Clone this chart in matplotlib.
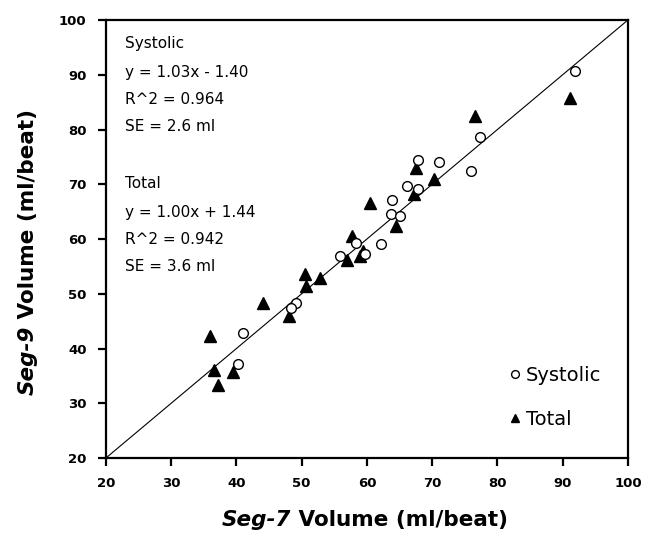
import matplotlib
matplotlib.use("Agg")
from matplotlib import pyplot as plt

# Systolic (circles)
sys_x = [91.9, 77.3, 71.1, 75.9, 67.9, 66.2, 67.9, 63.9, 63.7, 65.1, 62.1, 58.4, 55.8, 59.7, 49.2, 48.3, 41.0, 40.2]
sys_y = [90.6, 78.6, 74.0, 72.4, 74.4, 69.7, 69.1, 67.2, 64.5, 64.2, 59.0, 59.3, 56.9, 57.3, 48.3, 47.4, 42.9, 37.1]

# Total (triangles)
tot_x = [91.1, 76.6, 67.5, 70.3, 67.2, 60.5, 64.5, 57.7, 57.0, 58.9, 59.4, 50.5, 50.7, 52.8, 44.0, 48.1, 36.0, 36.6, 39.5, 37.2]
tot_y = [85.7, 82.4, 72.9, 70.9, 68.3, 66.5, 62.3, 60.6, 56.2, 56.9, 57.8, 53.6, 51.5, 52.9, 48.4, 46.0, 42.3, 36.1, 35.7, 33.3]

ticks = [20, 30, 40, 50, 60, 70, 80, 90, 100]
anotaciones = ["Systolic", "y = 1.03x - 1.40", "R^2 = 0.964", "SE = 2.6 ml",
               "Total", "y = 1.00x + 1.44", "R^2 = 0.942", "SE = 3.6 ml"]
anot_y = [95.8, 90.5, 85.4, 80.5, 70.2, 64.9, 60.0, 54.9]

fig = plt.figure(figsize=(6.46, 5.47), dpi=100)
ax = fig.add_axes([0.164, 0.1627, 0.808, 0.8007])

ax.plot([20, 100], [20, 100], color="black", lw=0.8, zorder=1)
ax.plot(sys_x, sys_y, "o", mfc="white", mec="black", mew=1.0, ms=7, label="Systolic", zorder=3)
ax.plot(tot_x, tot_y, "^", color="black", ms=8, label="Total", zorder=2)

ax.set_xlim(20, 100)
ax.set_ylim(20, 100)
ax.set_xticks(ticks)
ax.set_yticks(ticks)
for s in ax.spines.values():
    s.set_linewidth(1.6)
ax.tick_params(direction="out", length=6, width=1.6, labelsize=9.5, pad=8)
for lab in ax.get_xticklabels() + ax.get_yticklabels():
    lab.set_fontweight("bold")

for t, yy in zip(anotaciones, anot_y):
    ax.text(22.9, yy, t, fontsize=11, va="center", ha="left")

ax.legend(loc="lower right", bbox_to_anchor=(0.975, 0.035), frameon=False,
          fontsize=14, handletextpad=0.15, labelspacing=1.3, handlelength=0.8,
          markerscale=0.8, borderpad=0.2)

# etiquetas de los ejes (parte en cursiva)
tx = fig.text(0.343, 0.038, "Seg-7", fontsize=15.5, fontweight="bold", style="italic", va="baseline")
ax.annotate(" Volume (ml/beat)", xy=(1, 0), xycoords=tx, fontsize=15.5, fontweight="bold", va="bottom")
ty = fig.text(0.028, 0.278, "Seg-9", fontsize=15.5, fontweight="bold", style="italic", rotation=90, ha="left", va="bottom")
ax.annotate(" Volume (ml/beat)", xy=(0, 1), xycoords=ty, fontsize=15.5, fontweight="bold", rotation=90, ha="left", va="bottom")

fig.savefig("out.png", dpi=100)
